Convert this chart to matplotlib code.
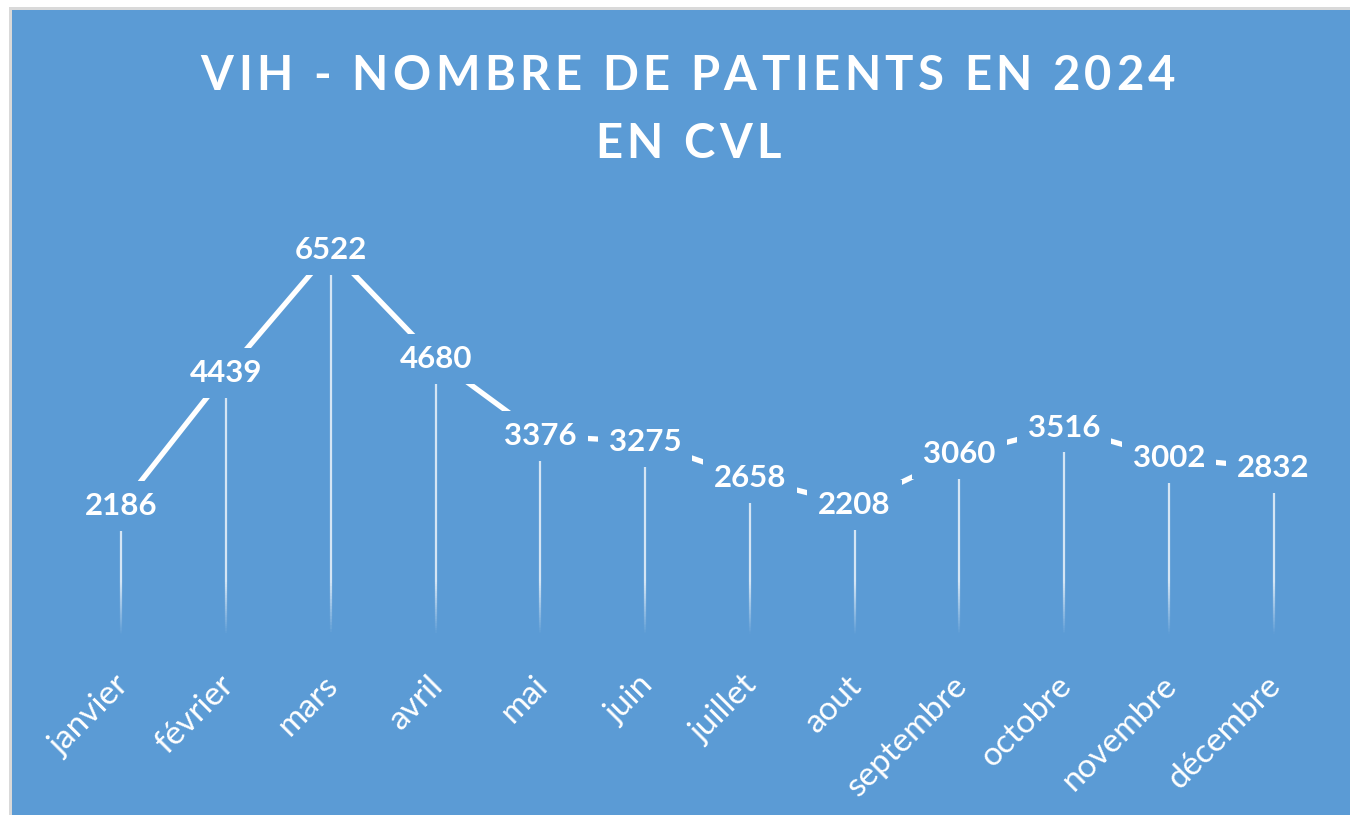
import numpy as np
import matplotlib
matplotlib.use('Agg')
import matplotlib.pyplot as plt
from matplotlib.collections import LineCollection
from matplotlib.patches import Rectangle

# data
mois = ['janvier', 'février', 'mars', 'avril', 'mai', 'juin', 'juillet',
        'aout', 'septembre', 'octobre', 'novembre', 'décembre']
patients = [2186, 4439, 6522, 4680, 3376, 3275, 2658, 2208, 3060, 3516, 3002, 2832]
titre = ['VIH - NOMBRE DE PATIENTS EN 2024', 'EN CVL']

bleu = '#5B9BD5'
W, H = 1350, 815

fig = plt.figure(figsize=(W / 100, H / 100), dpi=100, facecolor='white')
# grey frame + blue chart area
fig.patches.append(Rectangle((9 / W, 0), 1, 1 - 7 / H, transform=fig.transFigure,
                             facecolor='#D9D9D9', edgecolor='none', zorder=-2))
fig.patches.append(Rectangle((12 / W, 0), 1, 1 - 10 / H, transform=fig.transFigure,
                             facecolor=bleu, edgecolor='none', zorder=-1))

ax = fig.add_axes([69 / W, (H - 635) / H, 1257 / W, 413 / H])
ax.set_facecolor('none')
for s in ax.spines.values():
    s.set_visible(False)
ax.set_xlim(-0.5, len(mois) - 0.5)
ax.set_ylim(0, 7000)
ax.set_yticks([])
ax.set_xticks([])

x = np.arange(len(mois))

# drop lines fading out towards the axis
fade = 900
for xi, v in zip(x, patients):
    ys = np.linspace(0, v, 120)
    segs = [[(xi, ys[i]), (xi, ys[i + 1])] for i in range(len(ys) - 1)]
    alphas = 0.75 * np.clip(ys[:-1] / fade, 0, 1)
    cols = [(1, 1, 1, a) for a in alphas]
    ax.add_collection(LineCollection(segs, colors=cols, linewidths=1.6, zorder=1))

ax.plot(x, patients, color='white', lw=3.8, solid_capstyle='butt', zorder=2)

for xi, v in zip(x, patients):
    ax.text(xi, v, str(v), ha='center', va='center', color='white',
            fontsize=22.5, fontweight='bold', family='Lato', zorder=3,
            bbox=dict(boxstyle='square,pad=0.35', facecolor=bleu, edgecolor='none'))

for xi, m in zip(x, mois):
    ax.annotate(m, xy=(xi, 0), xycoords='data', xytext=(2, -33),
                textcoords='offset points', rotation=45, rotation_mode='anchor',
                ha='right', va='center', color='white', fontsize=24, family='Lato')


def spaced_text(fig, xc, yc, s, spacing, **kw):
    # draw text char by char with extra letter spacing (pixels)
    r = fig.canvas.get_renderer()
    ws = []
    for ch in s:
        if ch == ' ':
            t1 = fig.text(0, 0, 'a a', **kw)
            t2 = fig.text(0, 0, 'aa', **kw)
            w = t1.get_window_extent(r).width - t2.get_window_extent(r).width
            t1.remove()
            t2.remove()
        else:
            t = fig.text(0, 0, ch, **kw)
            w = t.get_window_extent(r).width
            t.remove()
        ws.append(w)
    total = sum(ws) + spacing * (len(s) - 1)
    xp = xc - total / 2
    for ch, w in zip(s, ws):
        if ch != ' ':
            fig.text(xp / W, 1 - yc / H, ch, ha='left', va='center', **kw)
        xp += w + spacing


tkw = dict(color='white', fontsize=34, fontweight='bold', family='Lato')
spaced_text(fig, 688, 76, titre[0], 4.5, **tkw)
spaced_text(fig, 688, 144, titre[1], 4.5, **tkw)

fig.savefig('out.png', dpi=100, facecolor=fig.get_facecolor())
